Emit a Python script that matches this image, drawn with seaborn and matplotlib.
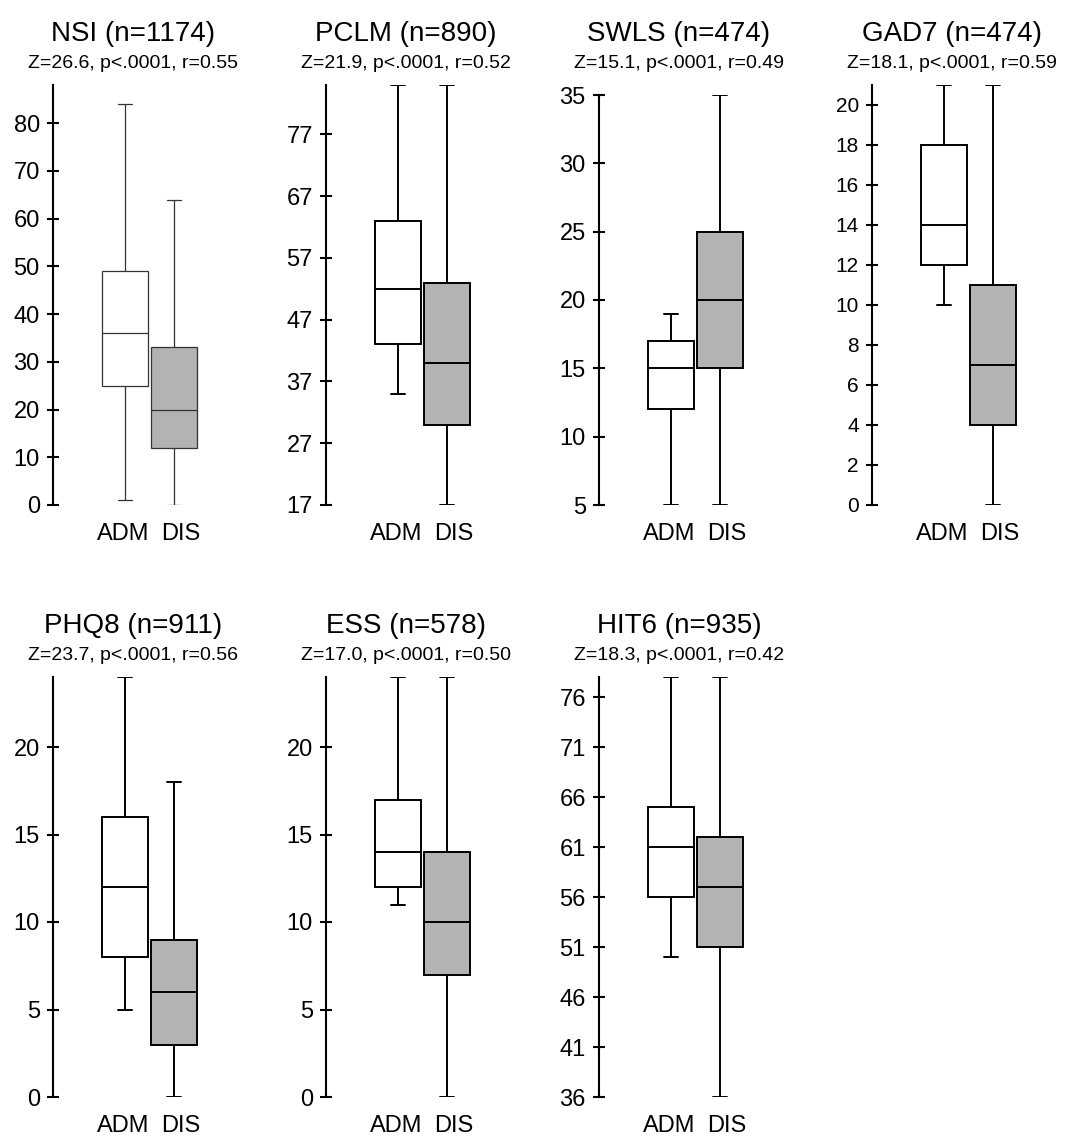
import numpy as np
import pandas as pd
import seaborn as sns
import matplotlib
matplotlib.use('Agg')
import matplotlib.pyplot as plt
import matplotlib.transforms as mtransforms

#%% data: five-number summaries (min, q1, median, q3, max)
panels = ['NSI', 'PCLM', 'SWLS', 'GAD7', 'PHQ8', 'ESS', 'HIT6']
n_vals = [1174, 890, 474, 474, 911, 578, 935]
z_vals = ['26.6', '21.9', '15.1', '18.1', '23.7', '17.0', '18.3']
r_vals = ['0.55', '0.52', '0.49', '0.59', '0.56', '0.50', '0.42']
groups = ['ADM', 'DIS']
adm_stats = [[1, 25, 36, 49, 84], [35, 43, 52, 63, 85], [5, 12, 15, 17, 19],
             [10, 12, 14, 18, 21], [5, 8, 12, 16, 24], [11, 12, 14, 17, 24],
             [50, 56, 61, 65, 78]]
dis_stats = [[0, 12, 20, 33, 64], [17, 30, 40, 53, 85], [5, 15, 20, 25, 35],
             [0, 4, 7, 11, 21], [0, 3, 6, 9, 18], [0, 7, 10, 14, 24],
             [36, 51, 57, 62, 78]]
y_limits = [(0, 88), (17, 85), (5, 35), (0, 21), (0, 24), (0, 24), (36, 78)]
y_ticks = [np.arange(0, 81, 10), np.arange(17, 78, 10), np.arange(5, 36, 5),
           np.arange(0, 21, 2), np.arange(0, 21, 5), np.arange(0, 21, 5),
           np.arange(36, 77, 5)]

#%% plot setup
sns.set_style('ticks')
plt.rcParams['font.family'] = ['Liberation Sans', 'DejaVu Sans']
plt.rcParams['text.color'] = 'black'
W, H = 1084, 1137
fig = plt.figure(figsize=(W / 100, H / 100), dpi=100)

col_left = [53, 326, 599, 872]
row_top = [85, 677]
row_bottom = [505, 1097]
ax_w = 160
px_per_unit = 49
adm_offset = 72
palette = {'ADM': 'white', 'DIS': '#b3b3b3'}
# group labels sit a little wider apart than the boxes
label_shift = [-2, 7]

#%% panels
for i, name in enumerate(panels):
    r, c = divmod(i, 4)
    top = row_top[r] + (10 if name == 'SWLS' else 0)
    rect = [col_left[c] / W, 1 - row_bottom[r] / H, ax_w / W, (row_bottom[r] - top) / H]
    ax = fig.add_axes(rect)

    df = pd.DataFrame({'group': ['ADM'] * 5 + ['DIS'] * 5,
                       'value': adm_stats[i] + dis_stats[i]})
    lw = 0.9 if name == 'NSI' else 1.4
    lc = '#333333' if name == 'NSI' else 'black'
    sns.boxplot(data=df, x='group', y='value', hue='group', order=groups,
                palette=palette, whis=(0, 100), width=0.94, linecolor=lc,
                linewidth=lw, legend=False, capwidths=0.27, ax=ax)

    left = -adm_offset / px_per_unit
    ax.set_xlim(left, left + ax_w / px_per_unit)
    ax.set_ylim(*y_limits[i])
    ax.set_yticks(y_ticks[i])
    ax.set_xlabel(None)
    ax.set_ylabel(None)
    for s in ['top', 'right', 'bottom']:
        ax.spines[s].set_visible(False)
    ax.spines['left'].set_linewidth(1.5)
    ax.spines['left'].set_color('black')
    ytick_size = 15 if name == 'GAD7' else 17
    ax.tick_params(axis='y', direction='inout', length=9, width=1.5,
                   labelsize=ytick_size, pad=5, colors='black')
    ax.tick_params(axis='x', length=0, labelsize=17, pad=13, colors='black')
    for lab, dx in zip(ax.get_xticklabels(), label_shift):
        off = mtransforms.ScaledTranslation(dx / 100, 0, fig.dpi_scale_trans)
        lab.set_transform(lab.get_transform() + off)
    ax.patch.set_alpha(0)

    # titles sit at the same height for every panel in a row
    y_row = 1 - row_top[r] / H
    ax.annotate(f'{name} (n={n_vals[i]})', xy=(0.5, y_row),
                xycoords=('axes fraction', 'figure fraction'),
                xytext=(0, 31.5), textcoords='offset points', ha='center',
                va='baseline', fontsize=20)
    ax.annotate(f'Z={z_vals[i]}, p<.0001, r={r_vals[i]}', xy=(0.5, y_row),
                xycoords=('axes fraction', 'figure fraction'),
                xytext=(0, 12.2), textcoords='offset points',
                ha='center', va='baseline', fontsize=14)

fig.savefig('out.png', dpi=100, facecolor='white')
